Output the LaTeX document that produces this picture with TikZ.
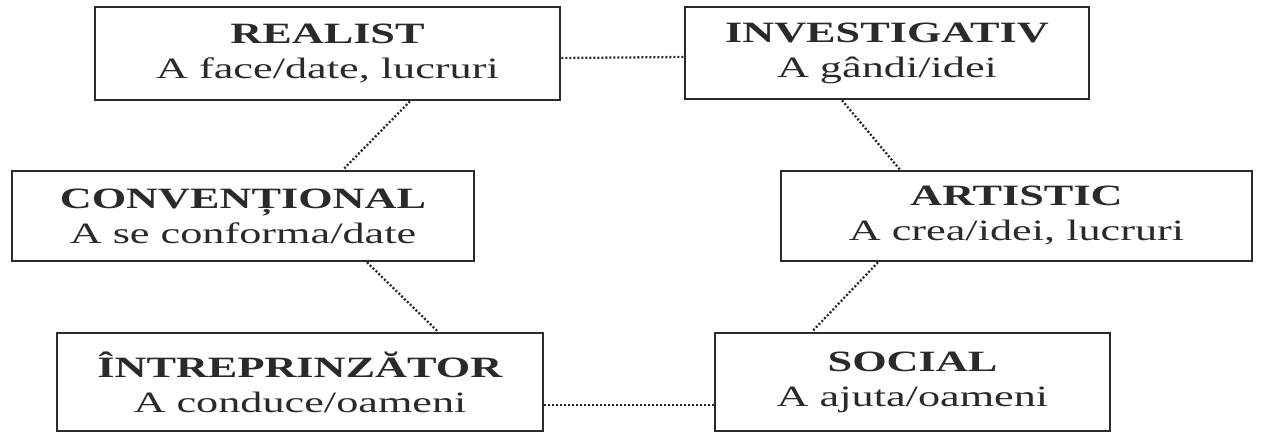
\documentclass[tikz,border=0pt]{standalone}
\usepackage{fontspec}
\setmainfont{Liberation Serif}[FakeStretch=1.5]
\definecolor{ink}{HTML}{2A2A2A}
\begin{document}
\begin{tikzpicture}[x=1pt,y=-1pt,
  box/.style={draw=ink,line width=2.6pt,text=ink,align=center,inner sep=0pt,
    font=\fontsize{29.5}{35}\selectfont},
  link/.style={draw=ink,line width=2.3pt,dash pattern=on 2pt off 2pt}]
\useasboundingbox (0,0) rectangle (1274,433);
\node[box,minimum width=465pt,minimum height=93pt] (R) at (327.5,53.5) {\textbf{REALIST}\\A face/date, lucruri};
\node[box,minimum width=404pt,minimum height=92pt] (I) at (887,53) {\textbf{INVESTIGATIV}\\A gândi/idei};
\node[box,minimum width=462pt,minimum height=90pt] (C) at (243,216) {\textbf{CONVENȚIONAL}\\A se conforma/date};
\node[box,minimum width=471pt,minimum height=90pt] (A) at (1016.5,216) {\textbf{ARTISTIC}\\A crea/idei, lucruri};
\node[box,minimum width=486pt,minimum height=98pt] (E) at (300,382) {\textbf{ÎNTREPRINZĂTOR}\\A conduce/oameni};
\node[box,minimum width=395pt,minimum height=98pt] (S) at (912.5,382) {\textbf{SOCIAL}\\A ajuta/oameni};
\draw[link] ([yshift=-4.5pt]R.east) -- ([yshift=-4pt]I.west);
\draw[link] ([xshift=82.5pt]R.south) -- ([xshift=100pt]C.north);
\draw[link] ([xshift=-45pt]I.south) -- ([xshift=-116.5pt]A.north);
\draw[link] ([xshift=124pt]C.south) -- ([xshift=138pt]E.north);
\draw[link] ([xshift=-138.5pt]A.south) -- ([xshift=-100.5pt]S.north);
\draw[link] ([yshift=-23pt]E.east) -- ([yshift=-23pt]S.west);
\end{tikzpicture}
\end{document}
